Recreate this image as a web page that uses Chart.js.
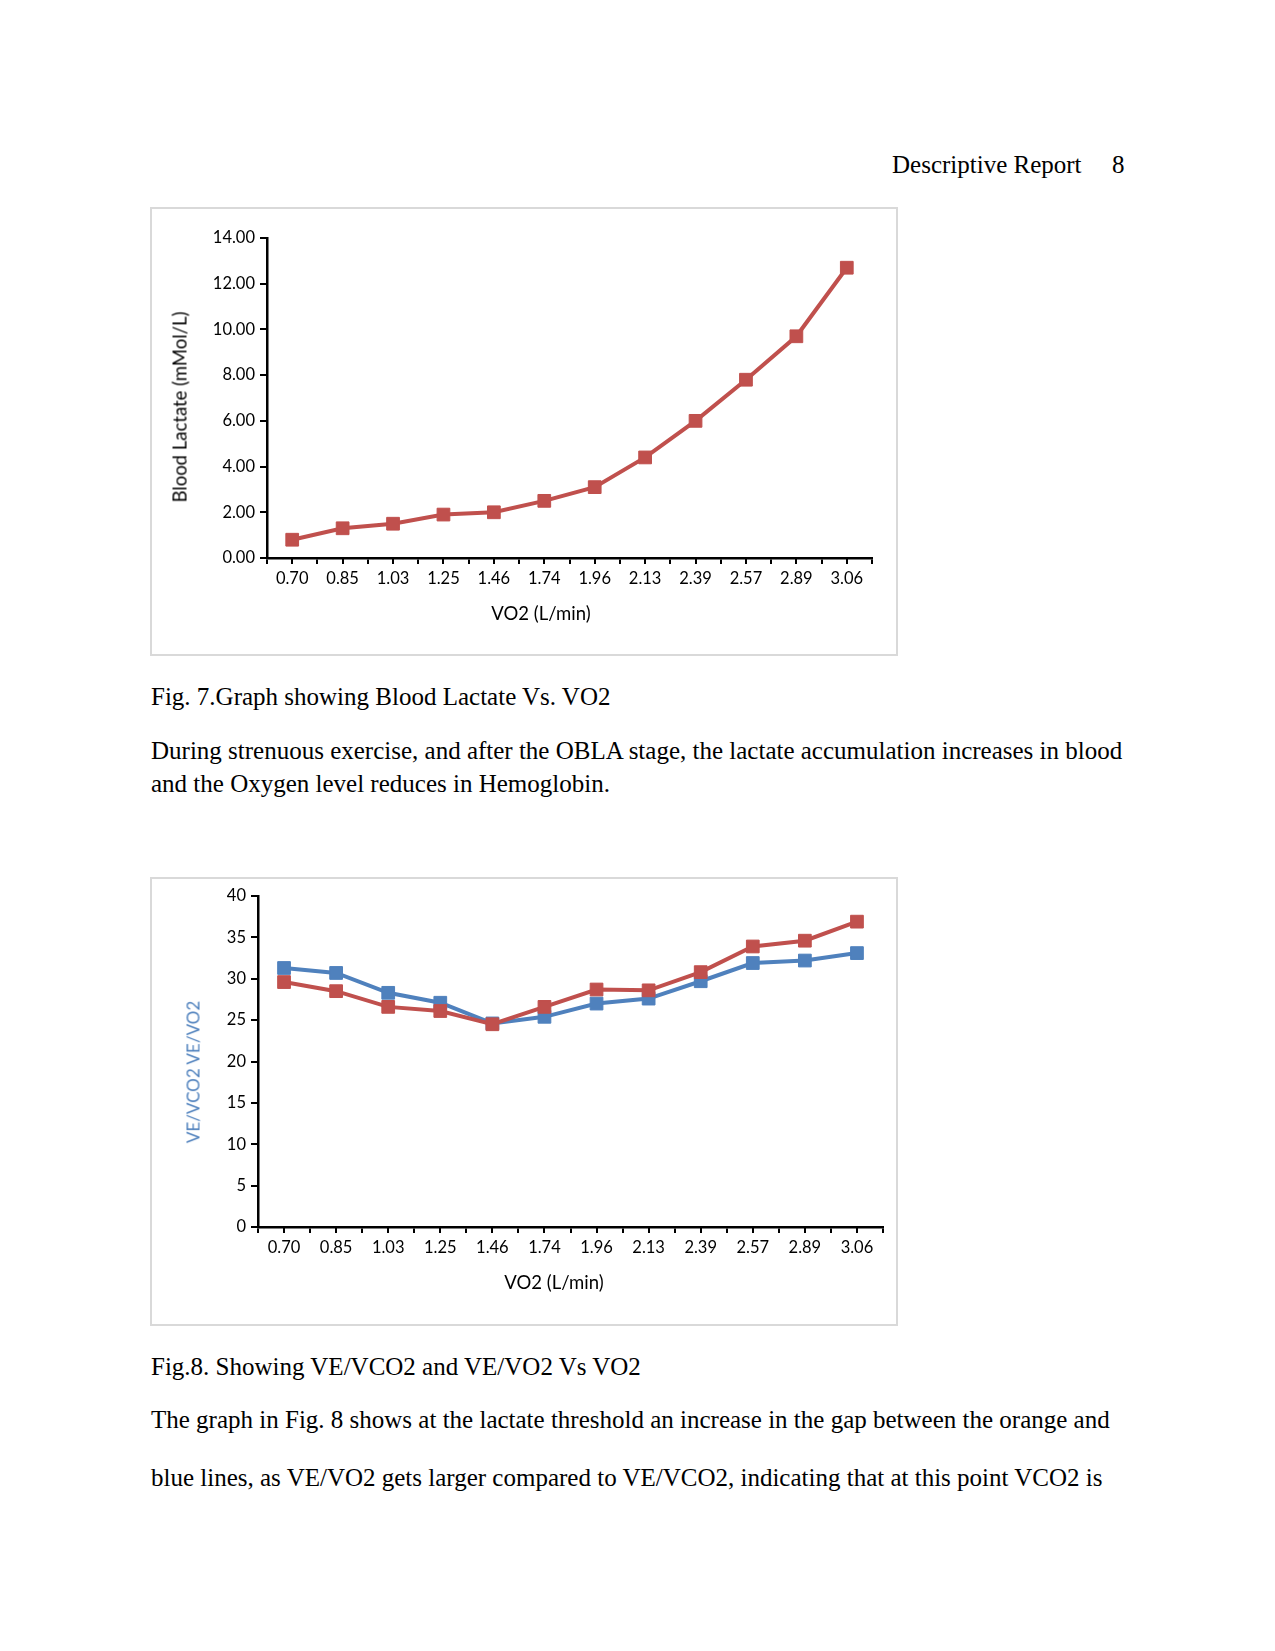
<!DOCTYPE html>
<html>
<head>
<meta charset="utf-8">
<script src="https://cdn.jsdelivr.net/npm/chart.js@4.4.1/dist/chart.umd.min.js"></script>
<style>
body { margin:0; background:#fff; width:1275px; height:1651px; position:relative; overflow:hidden; }
.t { position:absolute; left:151px; font-family:"Liberation Serif","Times New Roman",serif; font-size:25px; line-height:25px; white-space:nowrap; color:#000; }
.box { position:absolute; left:150px; width:744px; height:445px; border:2px solid #d9d9d9; }
.box canvas { position:absolute; left:0; top:0; }
.ax { position:absolute; font-family:Lato, sans-serif; font-size:18.5px; line-height:19px; white-space:nowrap; color:#000; transform:translate(-50%,-50%); }
.ax.v { transform:translate(-50%,-50%) rotate(-90deg); }
</style>
</head>
<body>
<div class="t" style="left:892px; top:152px">Descriptive Report</div>
<div class="t" style="left:1112px; top:152px">8</div>

<div class="box" style="top:207px"><canvas id="grafico1" width="744" height="445"></canvas></div>
<div class="ax v" style="left:180px; top:407px">Blood Lactate (mMol/L)</div>
<div class="ax" style="left:541px; top:613px">VO2 (L/min)</div>

<div class="t" style="top:684px">Fig. 7.Graph showing Blood Lactate Vs. VO2</div>
<div class="t" style="top:738px">During strenuous exercise, and after the OBLA stage, the lactate accumulation increases in blood</div>
<div class="t" style="top:771px">and the Oxygen level reduces in Hemoglobin.</div>

<div class="box" style="top:877px"><canvas id="grafico2" width="744" height="445"></canvas></div>
<div class="ax v" style="left:193px; top:1072px; font-size:17px; color:#4f81bd">VE/VCO2 VE/VO2</div>
<div class="ax" style="left:554px; top:1282px">VO2 (L/min)</div>

<div class="t" style="top:1354px">Fig.8. Showing VE/VCO2 and VE/VO2 Vs VO2</div>
<div class="t" style="top:1407px">The graph in Fig. 8 shows at the lactate threshold an increase in the gap between the orange and</div>
<div class="t" style="top:1465px">blue lines, as VE/VO2 gets larger compared to VE/VCO2, indicating that at this point VCO2 is</div>

<script>
const vo2 = ['0.70', '0.85', '1.03', '1.25', '1.46', '1.74', '1.96', '2.13', '2.39', '2.57', '2.89', '3.06'];
const bloodLactate = [0.8, 1.3, 1.5, 1.9, 2.0, 2.5, 3.1, 4.4, 6.0, 7.8, 9.7, 12.7];
const veVco2 = [31.3, 30.7, 28.3, 27.1, 24.6, 25.4, 27.0, 27.6, 29.7, 31.9, 32.2, 33.1];
const veVo2 = [29.6, 28.5, 26.6, 26.1, 24.5, 26.6, 28.7, 28.6, 30.8, 33.9, 34.6, 36.9];

const red = '#c0504d';
const blue = '#4f81bd';
const tickFont = { family: 'Lato', size: 16.5 };

// excel style: extra tick marks under each category, between the boundary ticks
const centerTicks = {
    id: 'centerTicks',
    afterDraw(chart) {
        const s = chart.scales.x;
        const ctx = chart.ctx;
        ctx.save();
        ctx.strokeStyle = '#000';
        ctx.lineWidth = 2;
        for (let i = 0; i < s.ticks.length; i++) {
            const px = Math.round(s.getPixelForTick(i));
            ctx.beginPath();
            ctx.moveTo(px, s.top);
            ctx.lineTo(px, s.top + 6);
            ctx.stroke();
        }
        ctx.restore();
    }
};

function line(label, data, color, order) {
    return {
        label: label,
        data: data,
        borderColor: color,
        backgroundColor: color,
        borderWidth: 4,
        pointStyle: 'rect',
        pointRadius: 9,
        pointBorderWidth: 1,
        pointBackgroundColor: color,
        pointBorderColor: color,
        tension: 0,
        order: order
    }
}

function axes(yMax, yStep, yFmt, yWidth, xHeight) {
    return {
        x: {
            offset: true,
            grid: { offset: true, drawOnChartArea: false, color: '#000', lineWidth: 2, tickLength: 6 },
            border: { color: '#000', width: 2.5 },
            ticks: { color: '#000', font: tickFont, padding: 5, maxRotation: 0, autoSkip: false },
            afterFit: s => { s.height = xHeight }
        },
        y: {
            min: 0,
            max: yMax,
            grid: { drawOnChartArea: false, color: '#000', lineWidth: 2, tickLength: 7 },
            border: { color: '#000', width: 2.5 },
            ticks: { stepSize: yStep, color: '#000', font: tickFont, padding: 5, callback: yFmt },
            afterFit: s => { s.width = yWidth }
        }
    }
}

const common = {
    responsive: false,
    animation: false,
    plugins: { legend: { display: false }, tooltip: { enabled: false } }
};

new Chart(document.getElementById('grafico1'), {
    type: 'line',
    data: {
        labels: vo2,
        datasets: [line('Blood Lactate', bloodLactate, red, 0)]
    },
    options: Object.assign({}, common, {
        layout: { padding: { left: 0, top: 29, right: 24, bottom: 0 } },
        scales: axes(14, 2, v => v.toFixed(2), 115, 96)
    }),
    plugins: [centerTicks]
});

new Chart(document.getElementById('grafico2'), {
    type: 'line',
    data: {
        labels: vo2,
        datasets: [
            line('VE/VCO2', veVco2, blue, 1),
            line('VE/VO2', veVo2, red, 0)
        ]
    },
    options: Object.assign({}, common, {
        layout: { padding: { left: 0, top: 17, right: 13, bottom: 0 } },
        scales: axes(40, 5, v => v, 106, 97)
    }),
    plugins: [centerTicks]
});
</script>
</body>
</html>
